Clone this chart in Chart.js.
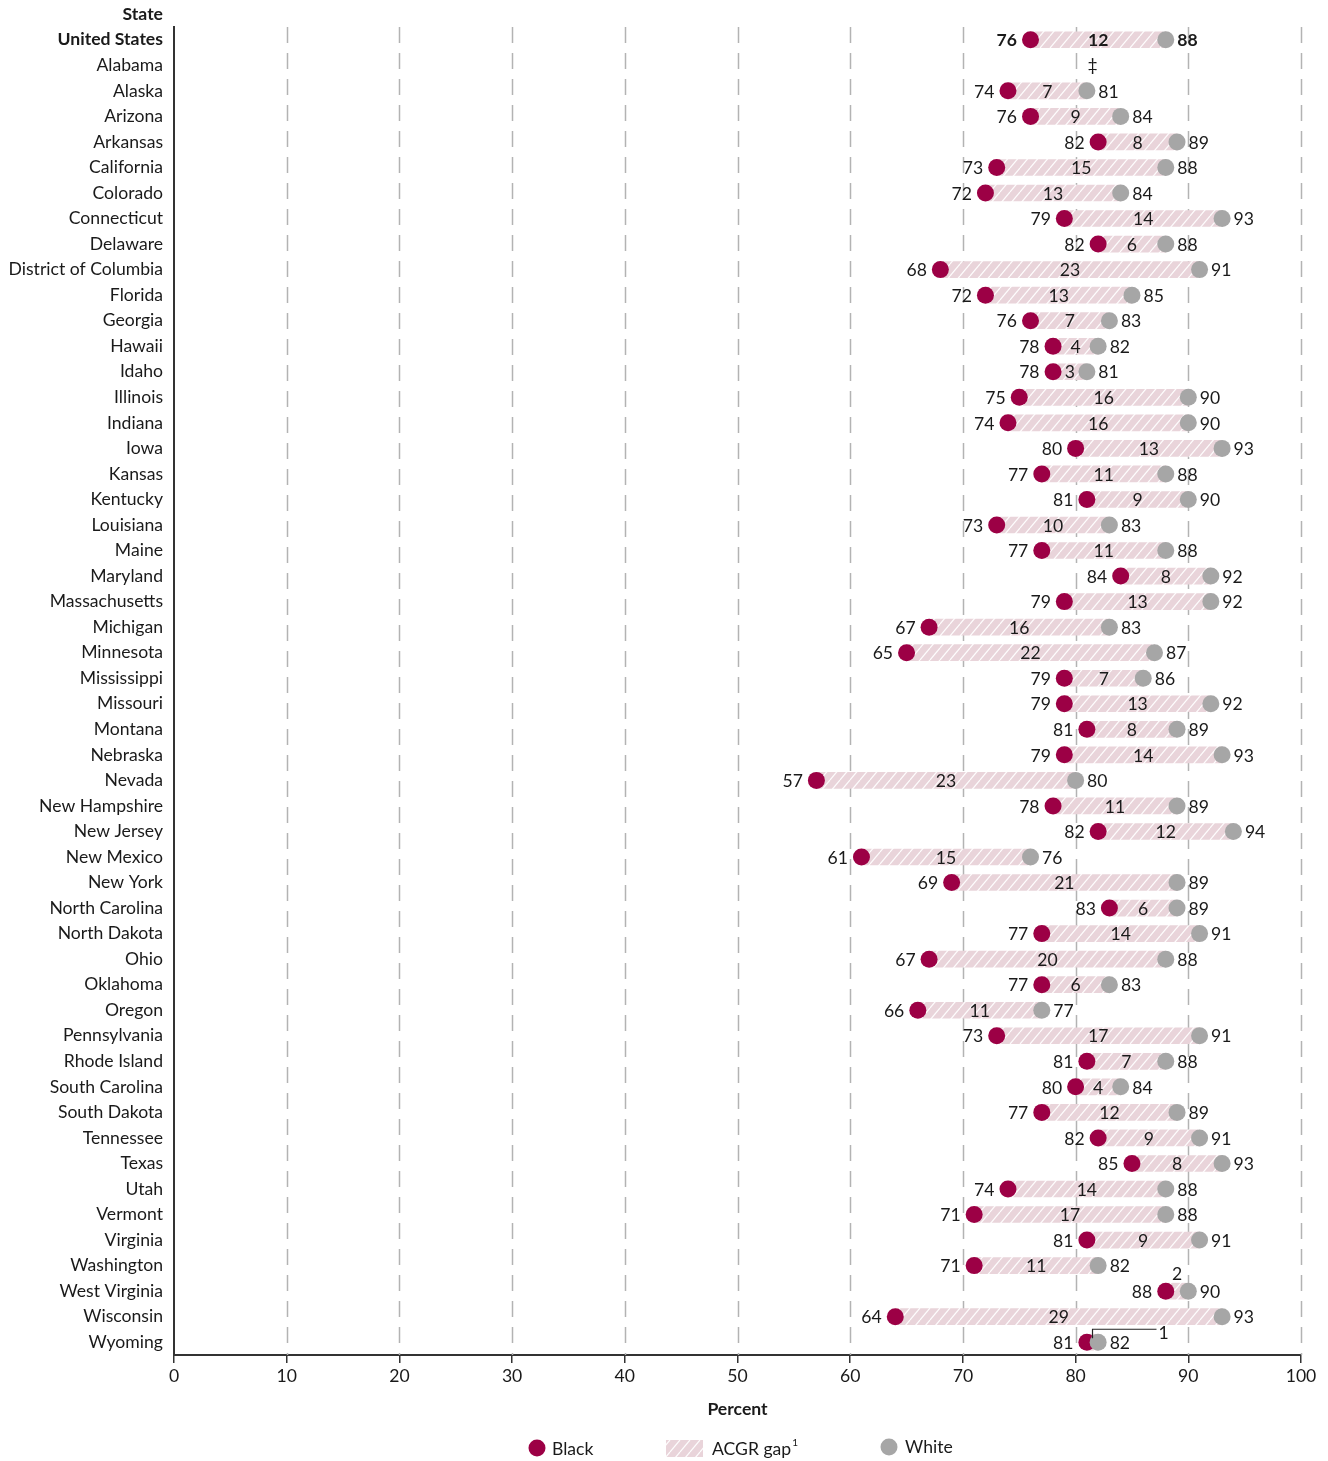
<!DOCTYPE html>
<html>
<head>
<meta charset="utf-8">
<script src="https://cdn.jsdelivr.net/npm/chart.js@4/dist/chart.umd.min.js"></script>
<style>
  html, body { margin: 0; padding: 0; background: #fff; }
  #wrap { width: 1328px; height: 1461px; position: relative; }
</style>
</head>
<body>
<div id="wrap"><canvas id="gapChart"></canvas></div>
<script>
// Data
const states = ["United States", "Alabama", "Alaska", "Arizona", "Arkansas", "California", "Colorado", "Connecticut", "Delaware", "District of Columbia", "Florida", "Georgia", "Hawaii", "Idaho", "Illinois", "Indiana", "Iowa", "Kansas", "Kentucky", "Louisiana", "Maine", "Maryland", "Massachusetts", "Michigan", "Minnesota", "Mississippi", "Missouri", "Montana", "Nebraska", "Nevada", "New Hampshire", "New Jersey", "New Mexico", "New York", "North Carolina", "North Dakota", "Ohio", "Oklahoma", "Oregon", "Pennsylvania", "Rhode Island", "South Carolina", "South Dakota", "Tennessee", "Texas", "Utah", "Vermont", "Virginia", "Washington", "West Virginia", "Wisconsin", "Wyoming"];
const black = [76, null, 74, 76, 82, 73, 72, 79, 82, 68, 72, 76, 78, 78, 75, 74, 80, 77, 81, 73, 77, 84, 79, 67, 65, 79, 79, 81, 79, 57, 78, 82, 61, 69, 83, 77, 67, 77, 66, 73, 81, 80, 77, 82, 85, 74, 71, 81, 71, 88, 64, 81];
const white = [88, null, 81, 84, 89, 88, 84, 93, 88, 91, 85, 83, 82, 81, 90, 90, 93, 88, 90, 83, 88, 92, 92, 83, 87, 86, 92, 89, 93, 80, 89, 94, 76, 89, 89, 91, 88, 83, 77, 91, 88, 84, 89, 91, 93, 88, 88, 91, 82, 90, 93, 82];
const gap = [12, null, 7, 9, 8, 15, 13, 14, 6, 23, 13, 7, 4, 3, 16, 16, 13, 11, 9, 10, 11, 8, 13, 16, 22, 7, 13, 8, 14, 23, 11, 12, 15, 21, 6, 14, 20, 6, 11, 17, 7, 4, 12, 9, 8, 14, 17, 9, 11, 2, 29, 1];
const xTicks = [0, 10, 20, 30, 40, 50, 60, 70, 80, 90, 100];

const FONT = "Lato, 'Open Sans', sans-serif";
const FS = 17.6;
const TEXT = '#1a1a1a';
const BLACK_C = '#9c0045';
const WHITE_C = '#a6a6a6';
const PINK = '#e9d4da';

// diagonal hatch used for the gap bars
function makeHatch(ctx) {
    const c = document.createElement('canvas');
    c.width = 10; c.height = 12;
    const p = c.getContext('2d');
    p.fillStyle = PINK;
    p.fillRect(0, 0, 10, 12);
    p.strokeStyle = 'rgba(255,255,255,0.95)';
    p.lineWidth = 1.2;
    for (const dx of [-10, 0, 10]) {
        p.beginPath();
        p.moveTo(dx, 12);
        p.lineTo(dx + 10, 0);
        p.stroke();
    }
    return ctx.createPattern(c, 'repeat');
}

const canvas = document.getElementById('gapChart');
const ctx = canvas.getContext('2d');
const hatch = makeHatch(ctx);

const gapBars = states.map((s, i) => black[i] == null ? null : [black[i], white[i]]);

// dashed vertical grid lines
const gridPlugin = {
    id: 'dashGrid',
    beforeDatasetsDraw(chart) {
        const {ctx, chartArea, scales: {x}} = chart;
        ctx.save();
        ctx.strokeStyle = '#b3b3b3';
        ctx.lineWidth = 1.5;
        ctx.setLineDash([16, 10]);
        xTicks.forEach(t => {
            if (t === 0) return;
            const px = Math.round(x.getPixelForValue(t)) + 0.5;
            ctx.beginPath();
            ctx.moveTo(px, chartArea.top);
            ctx.lineTo(px, chartArea.bottom);
            ctx.stroke();
        });
        ctx.restore();
    }
};

// value labels, title, legend
const labelPlugin = {
    id: 'valueLabels',
    afterDatasetsDraw(chart) {
        const {ctx, scales: {x, y}} = chart;
        const r = 8.5;
        ctx.save();
        ctx.fillStyle = TEXT;
        ctx.textBaseline = 'middle';
        states.forEach((s, i) => {
            const py = y.getPixelForValue(i);
            const weight = i === 0 ? 'bold ' : '';
            ctx.font = weight + FS + 'px ' + FONT;
            if (black[i] == null) {
                ctx.textAlign = 'center';
                ctx.fillText('\u2021', x.getPixelForValue(81.5), py);
                return;
            }
            const xb = x.getPixelForValue(black[i]);
            const xw = x.getPixelForValue(white[i]);
            const xm = (xb + xw) / 2;
            ctx.textAlign = 'right';
            ctx.fillText(String(black[i]), xb - r - 5, py + 1);
            ctx.textAlign = 'left';
            ctx.fillText(String(white[i]), xw + r + 3, py + 1);
            if (s === 'West Virginia') {
                ctx.textAlign = 'center';
                ctx.fillText(String(gap[i]), xm, py - 17);
            } else if (s === 'Wyoming') {
                ctx.strokeStyle = '#222';
                ctx.lineWidth = 1.2;
                ctx.beginPath();
                ctx.moveTo(xm, py - 4);
                ctx.lineTo(xm, py - 13);
                ctx.lineTo(xm + 64, py - 13);
                ctx.stroke();
                ctx.textAlign = 'left';
                ctx.fillText(String(gap[i]), xm + 66, py - 9);
            } else {
                ctx.textAlign = 'center';
                ctx.fillText(String(gap[i]), xm, py + 1);
            }
        });
        ctx.restore();
    },
    afterDraw(chart) {
        const {ctx, chartArea} = chart;
        ctx.save();
        ctx.fillStyle = TEXT;
        ctx.textBaseline = 'middle';
        // column header
        ctx.font = 'bold ' + FS + 'px ' + FONT;
        ctx.textAlign = 'right';
        ctx.fillText('State', chartArea.left - 11, 14);
        // axis title
        ctx.textAlign = 'center';
        ctx.fillText('Percent', (chartArea.left + chartArea.right) / 2, 1409);
        // legend
        const ly = 1448;
        ctx.font = FS + 'px ' + FONT;
        ctx.textAlign = 'left';
        ctx.fillStyle = BLACK_C;
        ctx.beginPath(); ctx.arc(537, ly, 8.5, 0, Math.PI * 2); ctx.fill();
        ctx.fillStyle = TEXT;
        ctx.fillText('Black', 552, ly + 1);
        ctx.fillStyle = hatch;
        ctx.fillRect(666, ly - 8, 37, 17);
        ctx.fillStyle = TEXT;
        ctx.fillText('ACGR gap', 712, ly + 1);
        const w = ctx.measureText('ACGR gap').width;
        ctx.font = '10px ' + FONT;
        ctx.fillText('1', 712 + w + 1, ly - 5);
        ctx.fillStyle = WHITE_C;
        ctx.beginPath(); ctx.arc(889, ly - 1, 8.5, 0, Math.PI * 2); ctx.fill();
        ctx.font = FS + 'px ' + FONT;
        ctx.fillStyle = TEXT;
        ctx.fillText('White', 905, ly - 1);
        ctx.restore();
    }
};

new Chart(ctx, {
    type: 'bar',
    data: {
        labels: states,
        datasets: [
            {
                type: 'line', label: 'White', data: white, indexAxis: 'y',
                showLine: false, pointRadius: 8.5, pointHoverRadius: 8.5,
                pointBackgroundColor: WHITE_C, pointBorderWidth: 0, borderColor: WHITE_C
            },
            {
                type: 'line', label: 'Black', data: black, indexAxis: 'y',
                showLine: false, pointRadius: 8.5, pointHoverRadius: 8.5,
                pointBackgroundColor: BLACK_C, pointBorderWidth: 0, borderColor: BLACK_C
            },
            {
                label: 'ACGR gap', data: gapBars, backgroundColor: hatch,
                borderWidth: 0, borderSkipped: false, barThickness: 16
            }
        ]
    },
    options: {
        indexAxis: 'y',
        responsive: true,
        maintainAspectRatio: false,
        animation: false,
        layout: { padding: { left: 0, right: 27, top: 27, bottom: 0 } },
        plugins: { legend: { display: false }, tooltip: { enabled: false } },
        scales: {
            x: {
                type: 'linear', min: 0, max: 100,
                afterBuildTicks: s => { s.ticks = xTicks.map(v => ({value: v})); },
                afterFit: s => { s.height = 106; },
                grid: { drawOnChartArea: false, drawTicks: true, tickLength: 8, color: '#333', lineWidth: 1.5 },
                border: { display: true, color: '#333', width: 2 },
                ticks: { color: TEXT, padding: 3, font: { family: FONT, size: FS } }
            },
            y: {
                type: 'category',
                afterFit: s => { s.width = 174; },
                grid: { display: false, drawTicks: false },
                border: { display: true, color: '#333', width: 2 },
                ticks: {
                    color: TEXT, padding: 11, autoSkip: false,
                    font: c => ({ family: FONT, size: FS, weight: c.index === 0 ? 'bold' : 'normal' })
                }
            }
        }
    },
    plugins: [gridPlugin, labelPlugin]
});
</script>
</body>
</html>
